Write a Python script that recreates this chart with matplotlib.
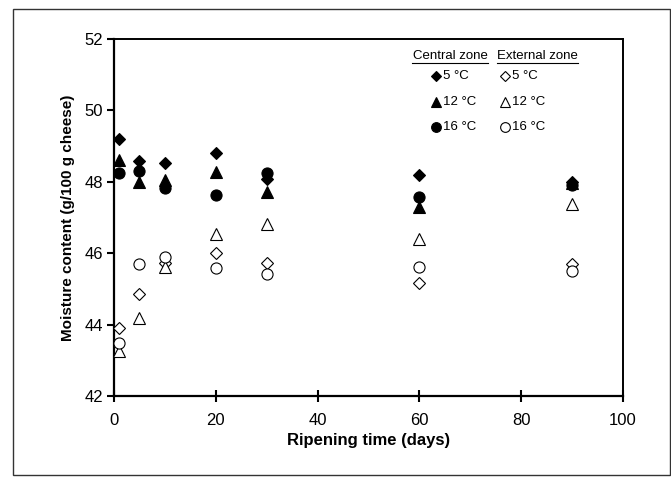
import matplotlib
matplotlib.use("Agg")
import matplotlib.pyplot as plt
from matplotlib.patches import Rectangle
from matplotlib.lines import Line2D

plt.rcParams['font.family'] = ['Liberation Sans', 'DejaVu Sans']

days = [1, 5, 10, 20, 30, 60, 90]
central_5 = [49.19, 48.58, 48.52, 48.82, 48.08, 48.19, 48.00]
central_12 = [48.61, 48.00, 48.05, 48.27, 47.72, 47.30, 47.98]
central_16 = [48.26, 48.31, 47.82, 47.63, 48.24, 47.58, 47.92]
external_5 = [43.91, 44.85, 45.73, 46.00, 45.72, 45.17, 45.70]
external_12 = [43.26, 44.18, 45.62, 46.54, 46.82, 46.40, 47.37]
external_16 = [43.48, 45.69, 45.90, 45.59, 45.41, 45.62, 45.50]

x_ticks = [0, 20, 40, 60, 80, 100]
y_ticks = [42, 44, 46, 48, 50, 52]
labels_temp = ["5 °C", "12 °C", "16 °C"]

fig = plt.figure(figsize=(6.71, 4.80), dpi=100)
ax = fig.add_axes([114/671, 1-396/480, (623-114)/671, (396-39)/480])

series = [
    (central_5, 'D', 'black', 6.5),
    (central_12, '^', 'black', 8),
    (central_16, 'o', 'black', 8),
    (external_5, 'D', 'white', 6.5),
    (external_12, '^', 'white', 8),
    (external_16, 'o', 'white', 8),
]
for vals, mk, fc, ms in series:
    ax.plot(days, vals, linestyle='none', marker=mk, markersize=ms,
            markerfacecolor=fc, markeredgecolor='black', markeredgewidth=0.8,
            clip_on=False, zorder=3)

ax.set_xlim(0, 100)
ax.set_ylim(42, 52)
ax.set_xticks(x_ticks)
ax.set_yticks(y_ticks)
ax.tick_params(axis='x', direction='inout', length=9, width=1.5, labelsize=12, pad=8)
ax.tick_params(axis='y', direction='out', length=5, width=1.5, labelsize=12, pad=3)
for s in ['left', 'bottom']:
    ax.spines[s].set_linewidth(1.6)
for s in ['top', 'right']:
    ax.spines[s].set_linewidth(1.4)
ax.set_xlabel("Ripening time (days)", fontsize=12, fontweight='bold', labelpad=3)
ax.set_ylabel("Moisture content (g/100 g cheese)", fontsize=11, fontweight='bold', labelpad=7)

# legend (manual)
def ax_x(px):
    return (px - 114) / 509
def ax_y(py):
    return (396 - py) / 357

hdr_y = ax_y(56)
ax.text(ax_x(450), hdr_y, "Central zone", transform=ax.transAxes, ha='center', va='center', fontsize=9.5)
ax.text(ax_x(537), hdr_y, "External zone", transform=ax.transAxes, ha='center', va='center', fontsize=9.5)
ax.add_line(Line2D([ax_x(412), ax_x(488)], [ax_y(63), ax_y(63)], transform=ax.transAxes, color='black', lw=0.8))
ax.add_line(Line2D([ax_x(497), ax_x(578)], [ax_y(63), ax_y(63)], transform=ax.transAxes, color='black', lw=0.8))

row_y = [ax_y(76), ax_y(102), ax_y(127)]
leg_markers = ['D', '^', 'o']
leg_ms = [5, 6.5, 7]
for i in range(3):
    ax.plot([ax_x(436)], [row_y[i]], transform=ax.transAxes, marker=leg_markers[i], markersize=leg_ms[i],
            markerfacecolor='black', markeredgecolor='black', markeredgewidth=0.8, linestyle='none')
    ax.text(ax_x(443), row_y[i], labels_temp[i], transform=ax.transAxes, ha='left', va='center', fontsize=9.5)
    ax.plot([ax_x(505)], [row_y[i]], transform=ax.transAxes, marker=leg_markers[i], markersize=leg_ms[i],
            markerfacecolor='white', markeredgecolor='black', markeredgewidth=0.8, linestyle='none')
    ax.text(ax_x(512), row_y[i], labels_temp[i], transform=ax.transAxes, ha='left', va='center', fontsize=9.5)

# outer frame
fig.patches.append(Rectangle((13/671, 1-475/480), (670-13)/671, (475-9)/480,
                             transform=fig.transFigure, fill=False, edgecolor='#333333', linewidth=1.0))

fig.savefig("out.png", dpi=100)
